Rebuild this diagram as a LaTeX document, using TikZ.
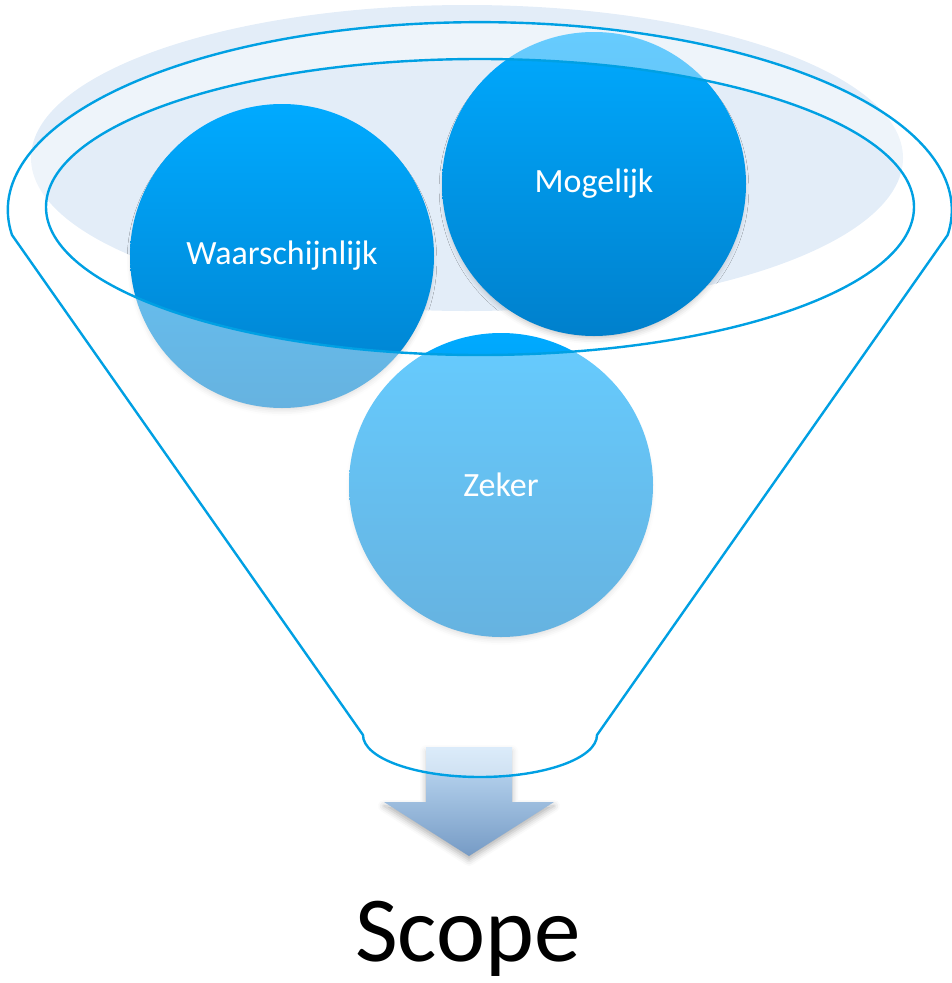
\documentclass[tikz,border=0pt]{standalone}
\usepackage{fontspec}
\setmainfont{Carlito}
\usetikzlibrary{shadows.blur}
\definecolor{bgell}{RGB}{227,237,248}
\definecolor{ctop}{RGB}{0,170,255}
\definecolor{cmid}{RGB}{0,158,238}
\definecolor{cbot}{RGB}{0,128,204}
\definecolor{fline}{RGB}{0,160,227}
\definecolor{atop}{RGB}{196,223,247}
\definecolor{abot}{RGB}{118,155,197}
\tikzset{
  ball/.style={circle, minimum size=304pt, inner sep=0pt, top color=ctop, middle color=cmid, bottom color=cbot, draw=none,
    text=white, font=\fontsize{34}{40}\selectfont,
    blur shadow={shadow xshift=0pt, shadow yshift=-5pt, shadow scale=0.98, shadow blur radius=6pt, shadow opacity=25}},
  funnelline/.style={draw=fline, line width=2.4pt, line join=round},
  funnelbody/.style={fill=white, fill opacity=0.4, even odd rule},
  bgellipse/.style={fill=bgell, draw=none},
  downarrow/.style={top color=atop, bottom color=abot, draw=none,
    blur shadow={shadow xshift=0pt, shadow yshift=-4pt, shadow blur radius=6pt, shadow opacity=30}},
  label/.style={font=\fontsize{93}{100}\selectfont, text=black, inner sep=0pt}
}
\begin{document}
\begin{tikzpicture}[x=1pt,y=-1pt]
\useasboundingbox (0,0) rectangle (952,983);
% background ellipse
\path[bgellipse] (467,158) ellipse [x radius=436, y radius=153];
% circles
\node[ball] (w) at (282,256) {Waarschijnlijk};
\node[ball] (m) at (594,184) {Mogelijk};
\node[ball] (z) at (501,485) {Zeker};
% arrow
\path[downarrow] (426,747) -- (512,747) -- (512,802) -- (554,802) -- (469,856) -- (384,802) -- (426,802) -- cycle;
% funnel body (white veil on rim and cone)
\path[funnelbody] (12,235) arc[start angle=172.4, end angle=367.6, x radius=472, y radius=188]
  -- (597,735) arc[start angle=0, end angle=180, x radius=117, y radius=42] -- cycle
  (480,207) ellipse [x radius=434, y radius=148];
% funnel outline
\draw[funnelline] (12,235) coordinate (fl) arc[start angle=172.4, end angle=367.6, x radius=472, y radius=188] coordinate (fr)
  -- (597,735) coordinate (br) arc[start angle=0, end angle=180, x radius=117, y radius=42] coordinate (bl) -- cycle;
\draw[funnelline] (480,207) ellipse [x radius=434, y radius=148];
% label
\node[label, anchor=base] (scope) at (468,961) {Scope};
\end{tikzpicture}
\end{document}
